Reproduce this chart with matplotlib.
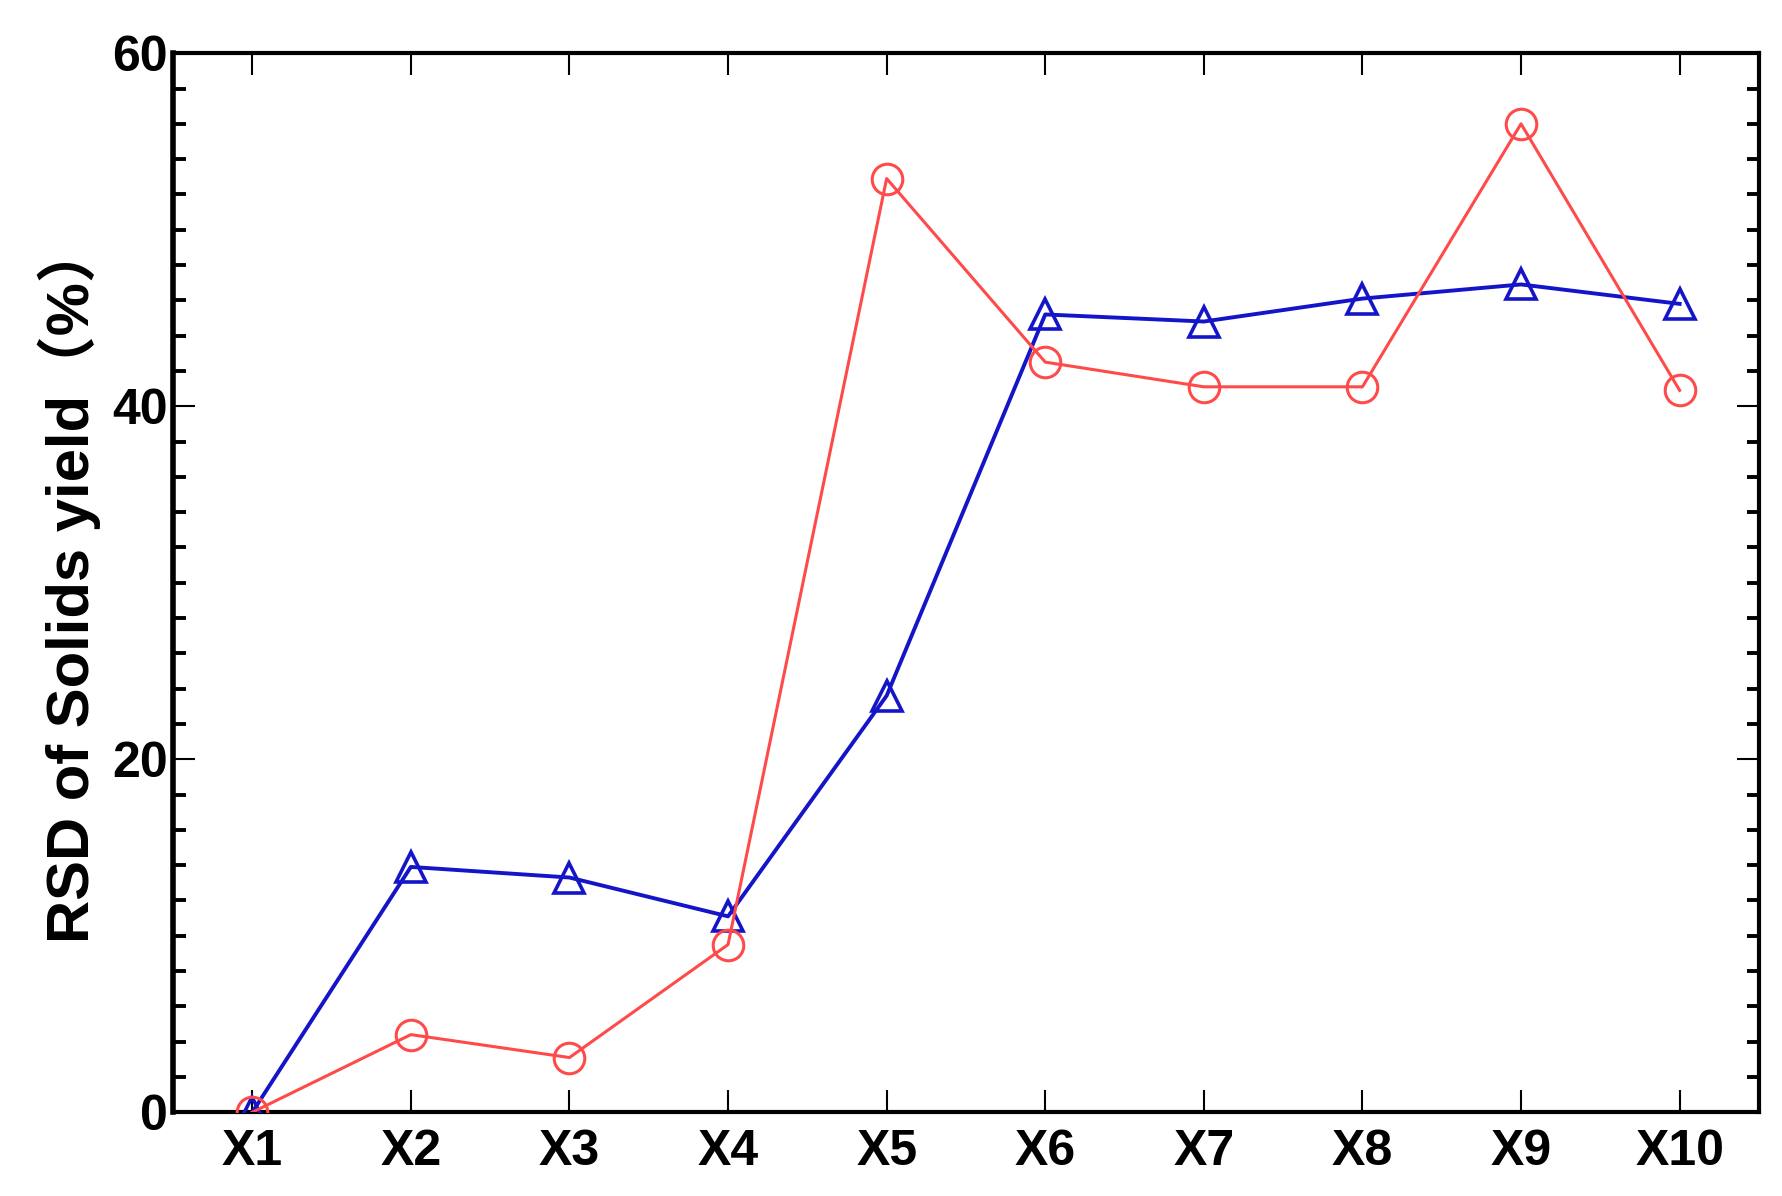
import numpy as np
import matplotlib.pyplot as plt
from matplotlib.ticker import MultipleLocator

# 数据
categories = ['X1', 'X2', 'X3', 'X4', 'X5', 'X6', 'X7', 'X8', 'X9', 'X10']
blue_vals = [0.0, 13.9, 13.3, 11.1, 23.6, 45.2, 44.8, 46.1, 46.9, 45.8]
red_vals = [0.0, 4.4, 3.1, 9.5, 52.9, 42.5, 41.1, 41.1, 56.0, 40.9]

plt.rcParams['font.family'] = ['Liberation Sans', 'Noto Sans CJK SC', 'DejaVu Sans']
plt.rcParams['font.weight'] = 'bold'

fig = plt.figure(figsize=(17.83, 11.96), dpi=100)
ax = fig.add_axes([0.097, 0.070, 0.8895, 0.8855])

x = np.arange(1, len(categories) + 1)
ax.plot(x, blue_vals, color='#1414C8', lw=2.8, marker='^', ms=21,
        mfc='none', mec='#1414C8', mew=2.6, zorder=3)
ax.plot(x, red_vals, color='#FF4A4A', lw=2.2, marker='o', ms=22,
        mfc='none', mec='#FF4A4A', mew=2.2, zorder=4)

ax.set_xlim(0.5, 10.5)
ax.set_ylim(0, 60)
ax.set_xticks(x)
ax.set_xticklabels(categories)
ax.yaxis.set_major_locator(MultipleLocator(20))
ax.yaxis.set_minor_locator(MultipleLocator(2))

ax.tick_params(axis='x', which='major', direction='in', top=True, bottom=True,
               length=16, width=1.5, labelsize=36, pad=12)
ax.tick_params(axis='y', which='major', direction='in', left=True, right=True,
               length=16, width=1.5, labelsize=36, pad=4)
ax.tick_params(axis='y', which='minor', direction='in', left=True, right=True,
               length=9, width=2.8)

for lab in ax.get_xticklabels() + ax.get_yticklabels():
    lab.set_fontweight('bold')

for side in ['left', 'right', 'top', 'bottom']:
    ax.spines[side].set_linewidth(3.0)
ax.spines['left'].set_linewidth(4.0)

ax.set_ylabel('RSD of Solids yield（%）', fontsize=43, fontweight='bold', labelpad=8)

plt.savefig('out.png', dpi=100)
